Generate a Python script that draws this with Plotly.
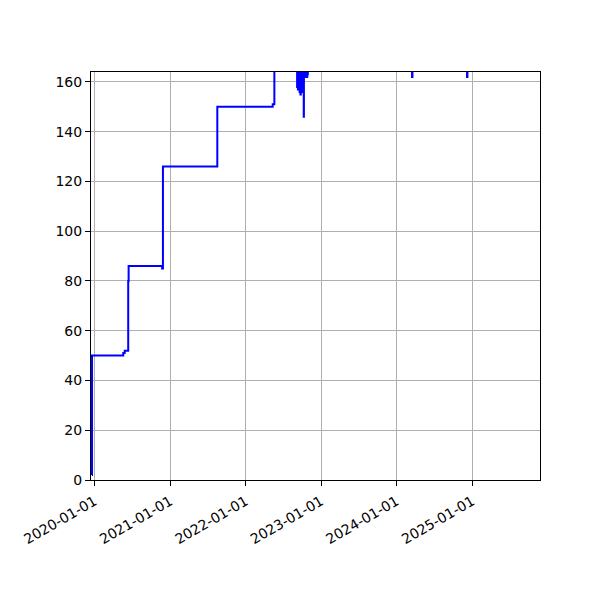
import plotly.graph_objects as go

# step series (values above ~164 run off the top of the axes)
dates = [
    "2019-12-19", "2019-12-20", "2020-05-19", "2020-05-26", "2020-06-12",
    "2020-06-14", "2020-11-23", "2020-11-27", "2021-08-17", "2022-05-12",
    "2022-05-20",
    "2022-09-07", "2022-09-09", "2022-09-11", "2022-09-13", "2022-09-15",
    "2022-09-17", "2022-09-19", "2022-09-21", "2022-09-23", "2022-09-25",
    "2022-09-27", "2022-09-29", "2022-10-01", "2022-10-03", "2022-10-05",
    "2022-10-07", "2022-10-09", "2022-10-10", "2022-10-12", "2022-10-14",
    "2022-10-16", "2022-10-18", "2022-10-20", "2022-10-22", "2022-10-24",
    "2022-10-26", "2022-10-28", "2022-10-29",
    "2024-03-16", "2024-03-18", "2024-12-07", "2024-12-09", "2025-06-30",
]
values = [
    2, 50, 51, 52, 80,
    86, 85, 126, 150, 151,
    175,
    158, 175, 157, 175, 158,
    175, 156, 175, 155, 175,
    157, 175, 156, 175, 158,
    175, 146, 175, 162, 175,
    162, 175, 163, 175, 162,
    175, 163, 175,
    162, 175, 162, 175, 175,
]

x_range = ["2019-12-15", "2025-11-25"]
y_range = [0, 164]

fig = go.Figure()
fig.add_trace(go.Scatter(
    x=dates, y=values, mode="lines",
    line=dict(color="blue", width=2, shape="hv"),
    showlegend=False,
))

axis_style = dict(
    showline=True, linecolor="black", linewidth=1, mirror=True,
    ticks="outside", ticklen=5, tickcolor="black", tickwidth=1,
    showgrid=True, gridcolor="#b0b0b0", gridwidth=1,
    zeroline=False,
    tickfont=dict(family="DejaVu Sans", size=14, color="black"),
)

fig.update_xaxes(
    range=x_range, type="date",
    tick0="2020-01-01", dtick="M12", tickformat="%Y-%m-%d",
    tickangle=-30, ticklabelstandoff=2,
    **axis_style,
)
fig.update_yaxes(range=y_range, dtick=20, **axis_style)

# page body adds an 8px offset, so margins are shifted to compensate
fig.update_layout(
    width=600, height=600,
    margin=dict(l=83, r=68, t=64, b=128),
    plot_bgcolor="white", paper_bgcolor="white",
)

fig.write_html("out.html")
